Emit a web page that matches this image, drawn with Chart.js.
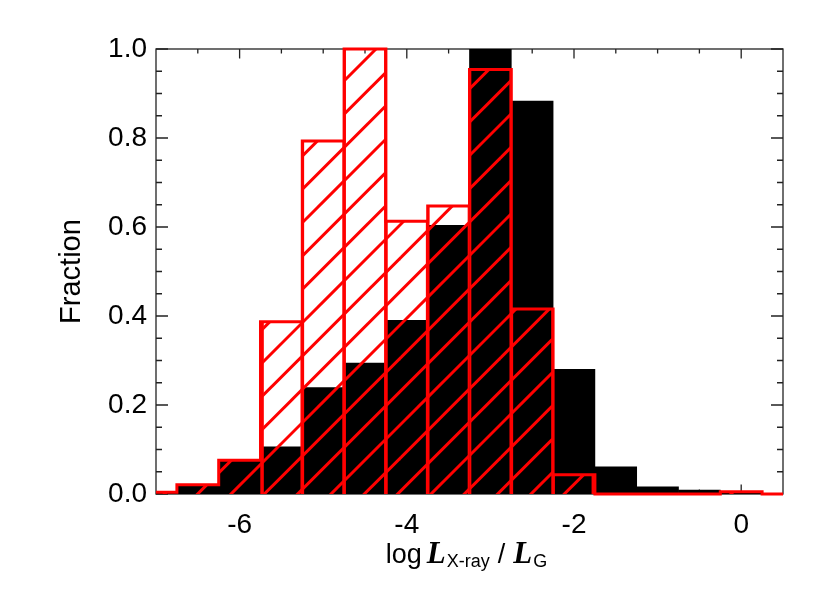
<!DOCTYPE html>
<html lang="en">
<head>
  <meta charset="UTF-8">
  <title>Fraction vs log Lx-ray / LG</title>
  <style>
    html, body { margin: 0; padding: 0; background: #fff; }
    #wrap { width: 830px; height: 593px; }
  </style>
</head>
<body>
  <div id="wrap"><canvas id="histChart" width="830" height="593"></canvas></div>

  <script src="https://cdn.jsdelivr.net/npm/chart.js"></script>
  <script>
    // bin centres (bins are 0.5 wide)
    const binCenters = [-7, -6.5, -6, -5.5, -5, -4.5, -4, -3.5, -3, -2.5, -2, -1.5, -1, -0.5, 0, 0.5];
    // filled black histogram
    const blackFraction = [0.003, 0.017, 0.074, 0.106, 0.239, 0.294, 0.390, 0.604, 1.0, 0.883, 0.280, 0.061, 0.016, 0.009, 0.003, 0.0];
    // red hatched histogram
    const redFraction = [0.004, 0.021, 0.076, 0.387, 0.793, 1.0, 0.613, 0.647, 0.954, 0.416, 0.043, 0.0, 0.0, 0.0, 0.005, 0.0];

    const xMajorTicks = [-6, -4, -2, 0];
    const xMinorTicks = [-6.5, -5.5, -5, -4.5, -3.5, -3, -2.5, -1.5, -1, -0.5];
    const yMajorTicks = [0, 0.2, 0.4, 0.6, 0.8, 1.0];
    const yMinorTicks = [0.05, 0.1, 0.15, 0.25, 0.3, 0.35, 0.45, 0.5, 0.55, 0.65, 0.7, 0.75, 0.85, 0.9, 0.95];

    const RED = '#ff0000';
    const SANS = '"Liberation Sans", Arial, sans-serif';
    const SERIF = '"Liberation Serif", "Times New Roman", serif';

    const canvas = document.getElementById('histChart');
    const ctx = canvas.getContext('2d');

    // diagonal hatch pattern (45 deg, ~33px apart)
    function makeHatch() {
      const tile = document.createElement('canvas');
      tile.width = 100;
      tile.height = 100;
      const g = tile.getContext('2d');
      g.strokeStyle = RED;
      g.lineWidth = 3;
      for (let k = -3; k <= 7; k++) {
        const c = 25 + k * 100 / 3;
        g.beginPath();
        g.moveTo(-20, c + 20);
        g.lineTo(c + 20, -20);
        g.stroke();
      }
      return ctx.createPattern(tile, 'repeat');
    }

    // frame with inward ticks on all four sides (IDL style)
    const frameTicks = {
      id: 'frameTicks',
      beforeDatasetsDraw(chart) {
        const c = chart.ctx;
        const { left, right, top, bottom } = chart.chartArea;
        const xs = chart.scales.x, ys = chart.scales.y;
        c.save();
        c.strokeStyle = '#222';
        c.lineWidth = 1.3;
        c.strokeRect(left, top, right - left, bottom - top);
        c.beginPath();
        const xTick = (v, len) => {
          const px = xs.getPixelForValue(v);
          c.moveTo(px, bottom); c.lineTo(px, bottom - len);
          c.moveTo(px, top); c.lineTo(px, top + len);
        };
        const yTick = (v, len) => {
          const py = ys.getPixelForValue(v);
          c.moveTo(left, py); c.lineTo(left + len, py);
          c.moveTo(right, py); c.lineTo(right - len, py);
        };
        xMajorTicks.forEach(v => xTick(v, 9.5));
        xMinorTicks.forEach(v => xTick(v, 4.5));
        yMajorTicks.forEach(v => yTick(v, 12));
        yMinorTicks.forEach(v => yTick(v, 6));
        c.stroke();
        c.restore();
      }
    };

    // x axis title with mixed fonts: log L_X-ray / L_G
    const xTitle = {
      id: 'xTitle',
      afterDraw(chart) {
        const c = chart.ctx;
        const parts = [
          { text: 'log', font: '27px ' + SANS, dy: 0, gap: 5 },
          { text: 'L', font: 'bold italic 31px ' + SERIF, dy: 0, gap: 1 },
          { text: 'X-ray', font: '18px ' + SANS, dy: 4, gap: 8 },
          { text: '/', font: '27px ' + SANS, dy: 0, gap: 8 },
          { text: 'L', font: 'bold italic 31px ' + SERIF, dy: 0, gap: 1 },
          { text: 'G', font: '18px ' + SANS, dy: 4, gap: 0 }
        ];
        c.save();
        let total = 0;
        parts.forEach(p => {
          c.font = p.font;
          p.w = c.measureText(p.text).width;
          total += p.w + p.gap;
        });
        const { left, right } = chart.chartArea;
        let x = (left + right) / 2 - 3 - total / 2;
        const base = 563;
        c.fillStyle = '#000';
        c.textBaseline = 'alphabetic';
        c.textAlign = 'left';
        parts.forEach(p => {
          c.font = p.font;
          c.fillText(p.text, x, base + p.dy);
          x += p.w + p.gap;
        });
        c.restore();
      }
    };

    const hasRed = i => i >= 3 && i < redFraction.length && redFraction[i] >= 0.01;

    new Chart(ctx, {
      type: 'bar',
      data: {
        datasets: [
          {
            type: 'line',
            data: binCenters.map((x, i) => ({ x: x, y: redFraction[i] })),
            stepped: 'middle',
            borderColor: RED,
            borderWidth: 3,
            borderJoinStyle: 'miter',
            pointRadius: 0,
            fill: false,
            order: 0,
            clip: { left: 0, right: 0, top: 4, bottom: 4 }
          },
          {
            data: binCenters.map((x, i) => ({ x: x, y: redFraction[i] })),
            backgroundColor: makeHatch(),
            borderColor: RED,
            borderWidth: c => {
              const i = c.dataIndex;
              if (!hasRed(i)) return 0;
              return {
                left: hasRed(i - 1) ? 1.5 : 3,
                right: hasRed(i + 1) ? 1.5 : 3,
                top: 0,
                bottom: 0
              };
            },
            barPercentage: 1,
            categoryPercentage: 1,
            grouped: false,
            order: 1,
            clip: 0
          },
          {
            data: binCenters.map((x, i) => ({ x: x, y: blackFraction[i] })),
            backgroundColor: '#000',
            borderWidth: 0,
            barPercentage: 1,
            categoryPercentage: 1,
            grouped: false,
            order: 2,
            clip: 0
          }
        ]
      },
      options: {
        responsive: false,
        animation: false,
        devicePixelRatio: 1,
        layout: { padding: { top: 49, right: 47, left: 0, bottom: 0 } },
        plugins: {
          legend: { display: false },
          tooltip: { enabled: false }
        },
        scales: {
          x: {
            type: 'linear',
            min: -7,
            max: 0.5,
            offset: false,
            grid: { display: false, drawTicks: false, offset: false },
            border: { display: false },
            ticks: {
              color: '#000',
              font: { family: SANS, size: 28 },
              padding: 14,
              autoSkip: false,
              maxRotation: 0,
              callback: v => String(v)
            },
            afterBuildTicks: s => { s.ticks = xMajorTicks.map(v => ({ value: v })); },
            afterFit: s => { s.height = 99; }
          },
          y: {
            type: 'linear',
            min: 0,
            max: 1,
            grid: { display: false, drawTicks: false },
            border: { display: false },
            ticks: {
              color: '#000',
              font: { family: SANS, size: 28 },
              padding: 9,
              callback: v => v.toFixed(1)
            },
            title: {
              display: true,
              text: 'Fraction',
              color: '#000',
              font: { family: SANS, size: 29 },
              padding: { top: 55, bottom: 0 }
            },
            afterBuildTicks: s => { s.ticks = yMajorTicks.map(v => ({ value: v })); },
            afterFit: s => { s.width = 156; }
          }
        }
      },
      plugins: [frameTicks, xTitle]
    });
  </script>
</body>
</html>
